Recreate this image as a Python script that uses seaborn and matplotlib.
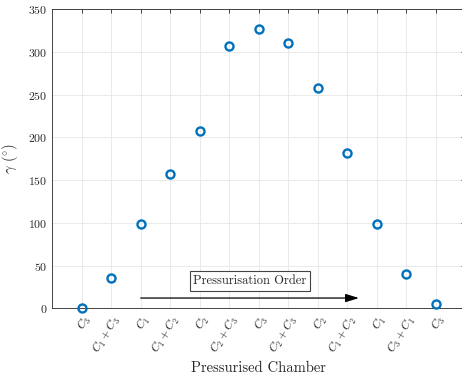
import matplotlib
matplotlib.use('Agg')
import matplotlib.pyplot as plt
import seaborn as sns
import pandas as pd

# pressurised chamber sequence and measured angle
chambers = ['$C_3$', '$C_1 + C_3$', '$C_1$', '$C_1 + C_2$', '$C_2$', '$C_2 + C_3$', '$C_3$',
            '$C_2 + C_3$', '$C_2$', '$C_1 + C_2$', '$C_1$', '$C_3 + C_1$', '$C_3$']
gamma = [0, 35, 99, 157, 207, 307, 327, 310, 258, 182, 99, 40, 5]
yticks = [0, 50, 100, 150, 200, 250, 300, 350]

sns.set_style('white')
plt.rcParams['font.family'] = ['serif']
plt.rcParams['font.serif'] = ['cmr10', 'DejaVu Serif']
plt.rcParams['mathtext.fontset'] = 'cm'
plt.rcParams['axes.formatter.use_mathtext'] = True

df = pd.DataFrame({'pos': range(1, len(gamma) + 1), 'gamma': gamma})

fig = plt.figure(figsize=(4.62, 3.81), dpi=100)
W, H = 462, 381
ax = fig.add_axes([52.3 / W, 1 - 308.3 / H, (465 - 52.3) / W, (308.3 - 9) / H])

sns.lineplot(data=df, x='pos', y='gamma', ax=ax, linestyle='', marker='o',
             markersize=5.8, markerfacecolor='none', markeredgecolor='#0072BD',
             markeredgewidth=1.7, clip_on=False, zorder=5)

ax.set_xlim(0, len(gamma) + 1)
ax.set_ylim(0, 350)
ax.set_xticks(df['pos'])
ax.set_xticklabels(chambers, rotation=58, ha='right', rotation_mode='anchor', fontsize=8.5)
ax.set_yticks(yticks)
ax.tick_params(axis='y', labelsize=8.5)
ax.tick_params(direction='in', length=3, width=0.6, top=True, right=True, colors='#262626')
ax.grid(True, color='#e6e6e6', linewidth=0.6)
ax.set_axisbelow(True)
for s in ax.spines.values():
    s.set_color('#262626')
    s.set_linewidth(0.6)

ax.set_xlabel('Pressurised Chamber', fontsize=10.5, color='#262626')
ax.set_ylabel(r'$\gamma$ ($^{\circ}$)', fontsize=10.5, color='#262626', labelpad=6)

# pressurisation order arrow
ax.annotate('', xy=(10.4, 12), xytext=(3.0, 12),
            arrowprops=dict(arrowstyle='-|>,head_length=0.8,head_width=0.25',
                            color='black', lw=0.9, shrinkA=0, shrinkB=0))
ax.text(6.71, 32, 'Pressurisation Order', ha='center', va='center', fontsize=9,
        bbox=dict(boxstyle='square,pad=0.3', fc='white', ec='#444444', lw=0.8))

fig.savefig('out.png', dpi=100)
